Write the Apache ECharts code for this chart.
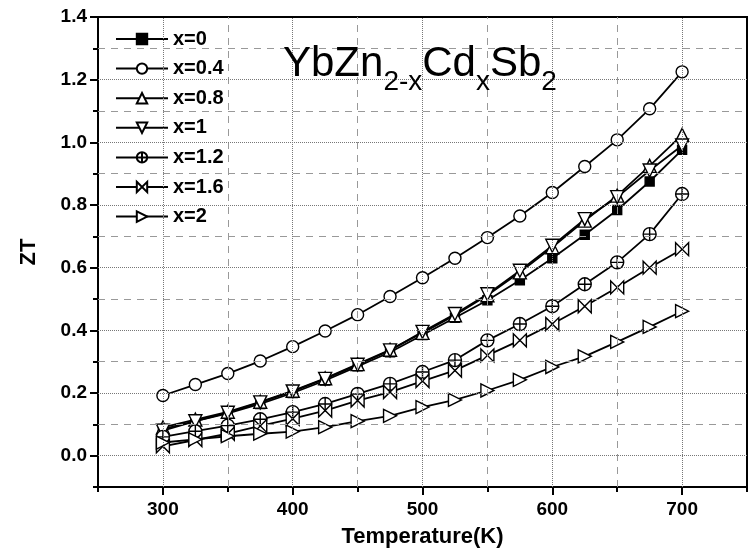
<!DOCTYPE html>
<html>
<head>
<meta charset="utf-8">
<script src="https://cdn.jsdelivr.net/npm/echarts@6/dist/echarts.min.js"></script>
<style>
  html, body { margin: 0; padding: 0; background: #ffffff; }
  #chart { width: 751px; height: 553px; }
</style>
</head>
<body>
<div id="chart"></div>
<script>
// Temperature points (K)
const temperatures = [300, 325, 350, 375, 400, 425, 450, 475, 500, 525, 550, 575, 600, 625, 650, 675, 700];

// ZT of YbZn(2-x)Cd(x)Sb2 for each Cd content
const ztX0   = [0.085, 0.110, 0.135, 0.165, 0.200, 0.240, 0.285, 0.330, 0.385, 0.440, 0.496, 0.560, 0.630, 0.705, 0.784, 0.875, 0.976];
const ztX04  = [0.192, 0.227, 0.262, 0.302, 0.348, 0.398, 0.450, 0.508, 0.568, 0.630, 0.696, 0.765, 0.840, 0.923, 1.008, 1.107, 1.225];
const ztX08  = [0.090, 0.115, 0.140, 0.172, 0.207, 0.247, 0.292, 0.338, 0.392, 0.448, 0.512, 0.585, 0.665, 0.750, 0.830, 0.925, 1.024];
const ztX1   = [0.080, 0.110, 0.137, 0.170, 0.205, 0.245, 0.290, 0.336, 0.395, 0.452, 0.515, 0.590, 0.670, 0.755, 0.825, 0.910, 0.990];
const ztX12  = [0.060, 0.078, 0.096, 0.116, 0.139, 0.165, 0.197, 0.229, 0.267, 0.305, 0.368, 0.420, 0.477, 0.547, 0.617, 0.707, 0.835];
const ztX16  = [0.030, 0.050, 0.070, 0.095, 0.118, 0.144, 0.176, 0.203, 0.238, 0.272, 0.320, 0.368, 0.420, 0.477, 0.537, 0.600, 0.659];
const ztX2   = [0.042, 0.052, 0.062, 0.070, 0.077, 0.091, 0.110, 0.127, 0.155, 0.178, 0.208, 0.242, 0.283, 0.317, 0.363, 0.411, 0.461];

const seriesNames = ['x=0', 'x=0.4', 'x=0.8', 'x=1', 'x=1.2', 'x=1.6', 'x=2'];
const seriesValues = [ztX0, ztX04, ztX08, ztX1, ztX12, ztX16, ztX2];

// Axis ticks
const xMajorTicks = [300, 400, 500, 600, 700];
const xMinorTicks = [250, 350, 450, 550, 650, 750];
const yMajorTicks = [0, 0.2, 0.4, 0.6, 0.8, 1.0, 1.2, 1.4];
const yMinorTicks = [-0.1, 0.1, 0.3, 0.5, 0.7, 0.9, 1.1, 1.3];

// Marker shapes
const symbols = [
  'rect',
  'circle',
  'triangle',
  'path://M-10,-8.66L10,-8.66L0,8.66Z',
  'path://M0,-10A10,10 0 1,1 0,10A10,10 0 1,1 0,-10ZM0,-10L0,10M-10,0L10,0',
  'path://M-10,-10L10,10L10,-10L-10,10Z',
  'path://M-8.66,-10L8.66,0L-8.66,10Z'
];
const symbolSizes = [9, 12, 13, 13, 13, 13, 13];

const FONT = '"Liberation Sans", Arial, sans-serif';

const chart = echarts.init(document.getElementById('chart'), null, { renderer: 'canvas' });

const dataSeries = seriesNames.map((name, i) => ({
  name: name,
  type: 'line',
  xAxisIndex: 0,
  yAxisIndex: 0,
  data: temperatures.map((t, k) => [t, seriesValues[i][k]]),
  symbol: symbols[i],
  symbolSize: symbolSizes[i],
  showAllSymbol: true,
  lineStyle: { color: '#000', width: 1.8 },
  itemStyle: { color: i === 0 ? '#000' : '#fff', borderColor: '#000', borderWidth: 1.4 },
  z: 3,
  animation: false
}));

// Grid lines drawn through the library's scales
const gridSeries = {
  name: 'grid',
  type: 'line',
  data: [[xMinorTicks[0], yMinorTicks[0]]],
  symbol: 'none',
  lineStyle: { opacity: 0 },
  silent: true,
  animation: false,
  z: 1,
  markLine: {
    silent: true,
    symbol: ['none', 'none'],
    label: { show: false },
    animation: false,
    emphasis: { disabled: true },
    data: [
      ...xMajorTicks.map(v => ({ xAxis: v, lineStyle: { color: '#777', width: 1, type: [1, 1] } })),
      ...xMinorTicks.filter(v => v > 250 && v < 750).map(v => ({ xAxis: v, lineStyle: { color: '#999', width: 1, type: [7, 6] } })),
      ...yMajorTicks.filter(v => v < 1.4).map(v => ({ yAxis: v, lineStyle: { color: '#777', width: 1, type: [1, 1] } })),
      ...yMinorTicks.filter(v => v > -0.1).map(v => ({ yAxis: v, lineStyle: { color: '#999', width: 1, type: [7, 6] } }))
    ]
  }
};

const option = {
  backgroundColor: '#fff',
  animation: false,
  title: {
    left: 278,
    top: 38,
    text: '{a|YbZn}{s|2-x}{a|Cd}{s|x}{a|Sb}{s|2}',
    textStyle: {
      fontWeight: 'normal',
      rich: {
        a: { fontFamily: FONT, fontWeight: 'normal', fontSize: 42, lineHeight: 43, color: '#000', verticalAlign: 'top' },
        s: { fontFamily: FONT, fontWeight: 'normal', fontSize: 28, lineHeight: 29, color: '#000', verticalAlign: 'top', padding: [25, 0, 0, 0] }
      }
    }
  },
  legend: {
    orient: 'vertical',
    left: 110,
    top: 24,
    itemWidth: 52,
    itemHeight: 13,
    itemGap: 9.6,
    data: seriesNames,
    textStyle: { fontFamily: FONT, fontWeight: 'bold', fontSize: 20, color: '#000' }
  },
  grid: {
    left: 98,
    right: 4,
    top: 17,
    bottom: 66,
    show: true,
    borderColor: '#000',
    borderWidth: 2,
    backgroundColor: 'transparent'
  },
  xAxis: [
    {
      type: 'value',
      min: 250,
      max: 750,
      position: 'bottom',
      name: 'Temperature(K)',
      nameLocation: 'middle',
      nameGap: 39,
      nameTextStyle: { fontFamily: FONT, fontWeight: 'bold', fontSize: 22, color: '#000' },
      axisLine: { show: true, onZero: false, lineStyle: { color: '#000', width: 2 } },
      axisTick: { show: true, inside: false, length: 8, lineStyle: { color: '#000', width: 2 }, customValues: xMajorTicks },
      axisLabel: { show: true, margin: 13, fontFamily: FONT, fontWeight: 'bold', fontSize: 19, color: '#000', customValues: xMajorTicks },
      splitLine: { show: false }
    },
    {
      type: 'value',
      min: 250,
      max: 750,
      position: 'bottom',
      axisLine: { show: false, onZero: false },
      axisTick: { show: true, inside: false, length: 5, lineStyle: { color: '#000', width: 2 }, customValues: xMinorTicks },
      axisLabel: { show: false },
      splitLine: { show: false }
    }
  ],
  yAxis: [
    {
      type: 'value',
      min: -0.1,
      max: 1.4,
      position: 'left',
      name: 'ZT',
      nameLocation: 'middle',
      nameGap: 58,
      nameTextStyle: { fontFamily: FONT, fontWeight: 'bold', fontSize: 22, color: '#000' },
      axisLine: { show: true, onZero: false, lineStyle: { color: '#000', width: 2 } },
      axisTick: { show: true, inside: false, length: 8, lineStyle: { color: '#000', width: 2 }, customValues: yMajorTicks },
      axisLabel: {
        show: true, margin: 11, fontFamily: FONT, fontWeight: 'bold', fontSize: 19, color: '#000',
        customValues: yMajorTicks,
        formatter: v => v.toFixed(1)
      },
      splitLine: { show: false }
    },
    {
      type: 'value',
      min: -0.1,
      max: 1.4,
      position: 'left',
      axisLine: { show: false, onZero: false },
      axisTick: { show: true, inside: false, length: 5, lineStyle: { color: '#000', width: 2 }, customValues: yMinorTicks },
      axisLabel: { show: false },
      splitLine: { show: false }
    }
  ],
  series: [gridSeries, ...dataSeries]
};

chart.setOption(option);
</script>
</body>
</html>
